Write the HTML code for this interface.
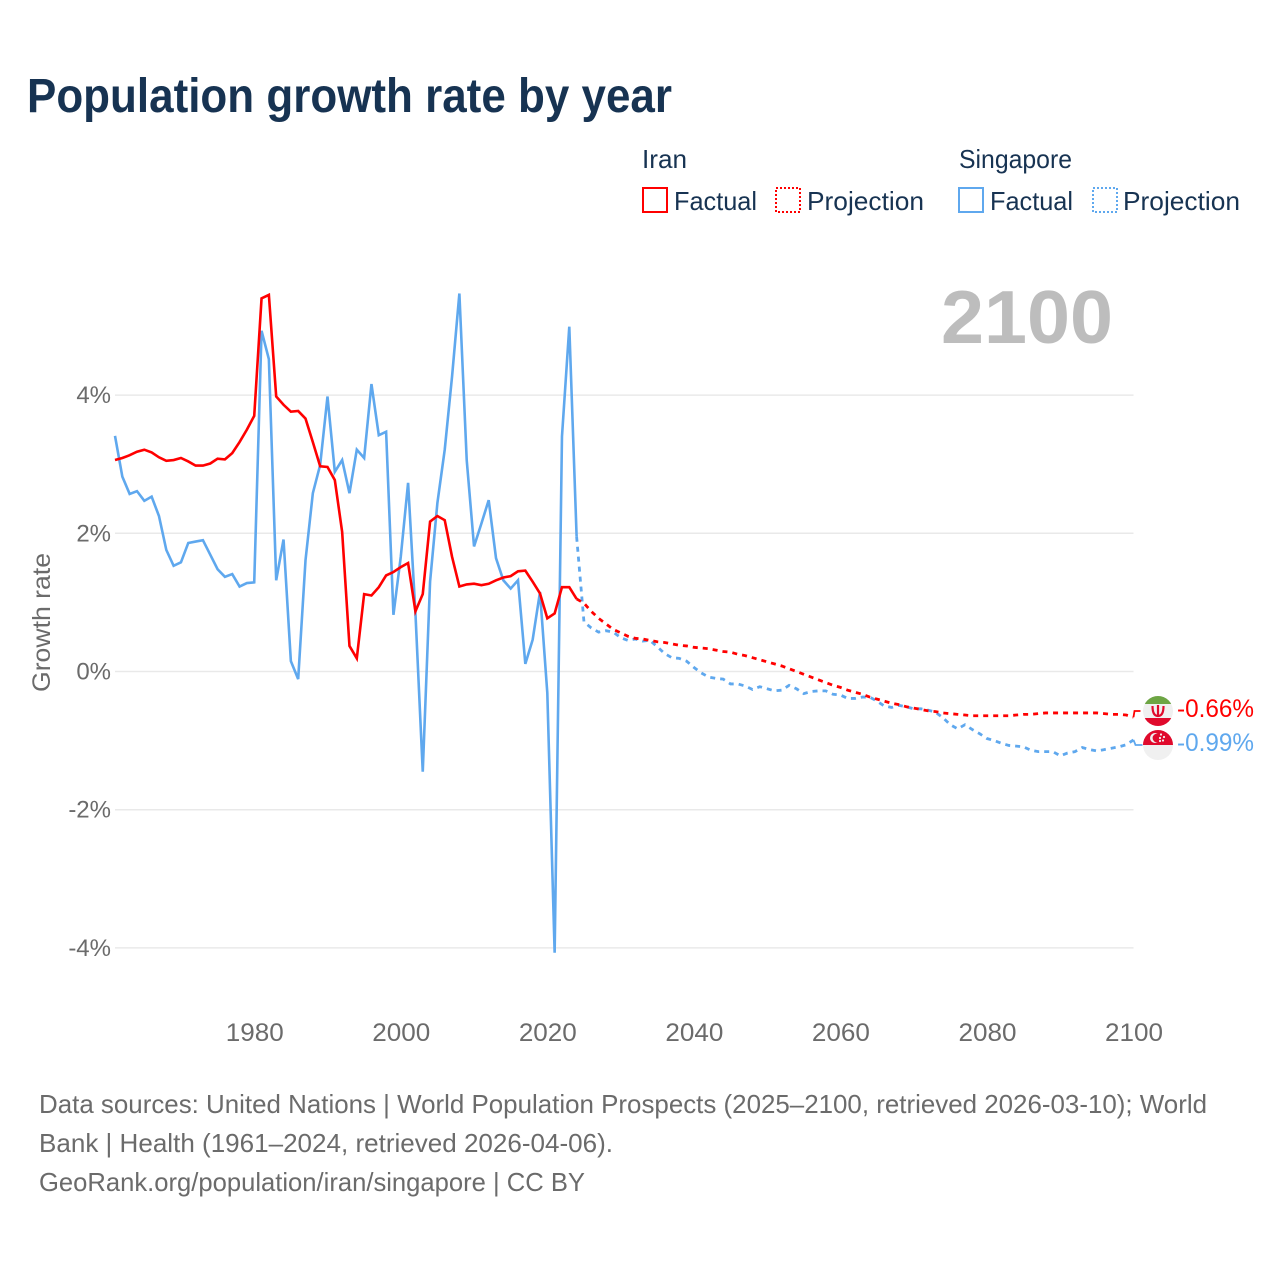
<!DOCTYPE html>
<html lang="en">
<head>
<meta charset="utf-8">
<title>Population growth rate by year</title>
<style>
html,body{margin:0;padding:0;background:#fff;}
svg{display:block;font-family:"Liberation Sans",sans-serif;}
</style>
</head>
<body>
<svg id="chart" xmlns="http://www.w3.org/2000/svg" width="1280" height="1280" viewBox="0 0 1280 1280">
  <rect width="1280" height="1280" fill="#ffffff"/>
  <text x="27" y="112" font-size="48" font-weight="700" fill="#173352" textLength="645" lengthAdjust="spacingAndGlyphs">Population growth rate by year</text>

  <g fill="#173352" font-size="26">
    <text x="642" y="168" textLength="45" lengthAdjust="spacingAndGlyphs">Iran</text>
    <text x="959" y="168" textLength="113" lengthAdjust="spacingAndGlyphs">Singapore</text>
    <rect x="643" y="188" width="24" height="24" fill="none" stroke="#ff0000" stroke-width="2"/>
    <text x="674" y="210" textLength="83" lengthAdjust="spacingAndGlyphs">Factual</text>
    <rect x="776" y="188" width="24" height="24" fill="none" stroke="#ff0000" stroke-width="2" stroke-dasharray="2 2"/>
    <text x="807" y="210" textLength="117" lengthAdjust="spacingAndGlyphs">Projection</text>
    <rect x="959" y="188" width="24" height="24" fill="none" stroke="#5fa8ee" stroke-width="2"/>
    <text x="990" y="210" textLength="83" lengthAdjust="spacingAndGlyphs">Factual</text>
    <rect x="1093" y="188" width="24" height="24" fill="none" stroke="#5fa8ee" stroke-width="2" stroke-dasharray="2 2"/>
    <text x="1123" y="210" textLength="117" lengthAdjust="spacingAndGlyphs">Projection</text>
  </g>

  <text x="941" y="343" font-size="75" font-weight="700" fill="#bdbdbd" textLength="172" lengthAdjust="spacingAndGlyphs">2100</text>
  <text transform="translate(50 692) rotate(-90)" font-size="25" fill="#6b6b6b" textLength="139" lengthAdjust="spacingAndGlyphs">Growth rate</text>

  <g id="grid"></g>
  <g id="yticks"></g>
  <g id="xticks"></g>
  <g id="series"></g>

  <g>
    <clipPath id="clipIran"><circle cx="1158" cy="711" r="15"/></clipPath>
    <g clip-path="url(#clipIran)">
      <rect x="1143" y="696" width="30" height="30" fill="#f0f0f0"/>
      <rect x="1143" y="696" width="30" height="8" fill="#6da544"/>
      <rect x="1143" y="718" width="30" height="8" fill="#e00a2c"/>
      <path d="M1152.5 706 Q1152.5 716 1158 716 Q1163.5 716 1163.5 706 M1158 705 V717" fill="none" stroke="#e00a2c" stroke-width="2.2"/>
    </g>
  </g>
  <g>
    <clipPath id="clipSing"><circle cx="1158" cy="745" r="15"/></clipPath>
    <g clip-path="url(#clipSing)">
      <rect x="1143" y="730" width="30" height="30" fill="#f0f0f0"/>
      <rect x="1143" y="730" width="30" height="15" fill="#e00a2c"/>
      <circle cx="1155" cy="738" r="5" fill="#f0f0f0"/>
      <circle cx="1157" cy="738" r="4.4" fill="#e00a2c"/>
      <circle cx="1161" cy="734.5" r="1.1" fill="#f0f0f0"/>
      <circle cx="1164" cy="737" r="1.1" fill="#f0f0f0"/>
      <circle cx="1160" cy="738" r="1.1" fill="#f0f0f0"/>
      <circle cx="1163" cy="740.5" r="1.1" fill="#f0f0f0"/>
      <circle cx="1160" cy="741" r="1.1" fill="#f0f0f0"/>
    </g>
  </g>
  <text x="1177" y="717" font-size="25" fill="#ff0000" textLength="77" lengthAdjust="spacingAndGlyphs">-0.66%</text>
  <text x="1177" y="751" font-size="25" fill="#5fa8ee" textLength="77" lengthAdjust="spacingAndGlyphs">-0.99%</text>

  <g font-size="26" fill="#6b6b6b">
    <text x="39" y="1113" textLength="1168" lengthAdjust="spacingAndGlyphs">Data sources: United Nations | World Population Prospects (2025–2100, retrieved 2026-03-10); World</text>
    <text x="39" y="1152" textLength="574" lengthAdjust="spacingAndGlyphs">Bank | Health (1961–2024, retrieved 2026-04-06).</text>
    <text x="39" y="1191" textLength="546" lengthAdjust="spacingAndGlyphs">GeoRank.org/population/iran/singapore | CC BY</text>
  </g>
</svg>
<script>
const firstYear = 1961;
const lastFactualYear = 2024;
const yTickValues = [4, 2, 0, -2, -4];
const yTickLabels = ['4%', '2%', '0%', '-2%', '-4%'];
const xTickYears = [1980, 2000, 2020, 2040, 2060, 2080, 2100];

const iranFactual = [3.06,3.09,3.13,3.18,3.21,3.17,3.10,3.05,3.06,3.09,3.04,2.98,2.98,3.01,3.08,3.07,3.16,3.32,3.50,3.70,5.40,5.45,3.98,3.86,3.76,3.77,3.66,3.32,2.97,2.96,2.77,2.02,0.37,0.19,1.12,1.10,1.22,1.39,1.44,1.51,1.57,0.87,1.12,2.17,2.25,2.19,1.66,1.23,1.26,1.27,1.25,1.27,1.32,1.36,1.38,1.45,1.46,1.30,1.13,0.77,0.84,1.22,1.22,1.05];
const iranProjection = [1.05,0.99,0.87,0.77,0.69,0.61,0.56,0.51,0.48,0.47,0.45,0.43,0.42,0.40,0.38,0.37,0.35,0.34,0.33,0.31,0.29,0.28,0.25,0.23,0.20,0.17,0.14,0.11,0.08,0.04,0.00,-0.04,-0.08,-0.12,-0.16,-0.20,-0.23,-0.27,-0.30,-0.33,-0.37,-0.40,-0.43,-0.46,-0.48,-0.51,-0.53,-0.55,-0.57,-0.58,-0.60,-0.61,-0.62,-0.63,-0.64,-0.64,-0.64,-0.64,-0.64,-0.64,-0.63,-0.62,-0.62,-0.61,-0.60,-0.60,-0.60,-0.60,-0.60,-0.60,-0.60,-0.60,-0.61,-0.62,-0.62,-0.63,-0.66];
const singaporeFactual = [3.41,2.82,2.57,2.61,2.47,2.53,2.25,1.76,1.53,1.58,1.86,1.88,1.90,1.69,1.48,1.37,1.41,1.23,1.28,1.29,4.93,4.52,1.32,1.91,0.15,-0.11,1.61,2.58,2.99,3.98,2.89,3.06,2.58,3.21,3.09,4.16,3.42,3.47,0.82,1.66,2.73,0.85,-1.45,1.30,2.44,3.21,4.27,5.47,3.06,1.81,2.14,2.48,1.64,1.32,1.20,1.32,0.11,0.46,1.15,-0.31,-4.07,3.40,4.99,1.95];
const singaporeProjection = [1.95,0.72,0.63,0.57,0.59,0.57,0.49,0.45,0.47,0.44,0.45,0.36,0.26,0.20,0.19,0.15,0.06,-0.02,-0.08,-0.10,-0.11,-0.18,-0.18,-0.21,-0.26,-0.22,-0.25,-0.28,-0.27,-0.20,-0.25,-0.32,-0.29,-0.28,-0.28,-0.33,-0.34,-0.39,-0.39,-0.37,-0.37,-0.43,-0.50,-0.52,-0.49,-0.51,-0.54,-0.54,-0.56,-0.59,-0.67,-0.77,-0.83,-0.77,-0.84,-0.90,-0.97,-1.00,-1.04,-1.07,-1.08,-1.09,-1.14,-1.16,-1.16,-1.16,-1.22,-1.18,-1.16,-1.10,-1.13,-1.15,-1.13,-1.11,-1.09,-1.06,-0.99];

const NS = 'http://www.w3.org/2000/svg';
function xScale(year) { return 115 + (year - firstYear) * (1133.5 - 115) / (2100 - firstYear); }
function yScale(v) { return 671.5 - v * 69.1; }
function linePoints(values, startYear) {
  return values.map(function (v, i) { return xScale(startYear + i).toFixed(2) + ',' + yScale(v).toFixed(2); }).join(' ');
}

const grid = document.getElementById('grid');
const yticks = document.getElementById('yticks');
yTickValues.forEach(function (v, i) {
  const g = document.createElementNS(NS, 'line');
  
  
  g.setAttribute('x1', 115);
  g.setAttribute('x2', 1133.5);
  g.setAttribute('y1', yScale(v));
  g.setAttribute('y2', yScale(v));
  g.setAttribute('stroke', '#e9e9e9');
  g.setAttribute('stroke-width', 1.5);
  grid.appendChild(g);

  const t = document.createElementNS(NS, 'text');
  
  
  t.setAttribute('x', 111);
  t.setAttribute('y', yScale(v) + 8);
  t.setAttribute('text-anchor', 'end');
  t.setAttribute('font-size', 24);
  t.setAttribute('fill', '#6b6b6b');
  t.textContent = yTickLabels[i];
  yticks.appendChild(t);
});

const xticks = document.getElementById('xticks');
xTickYears.forEach(function (yr) {
  const t = document.createElementNS(NS, 'text');
  
  
  t.setAttribute('x', xScale(yr) - 28.5);
  t.setAttribute('y', 1041);
  t.setAttribute('font-size', 25);
  t.setAttribute('fill', '#6b6b6b');
  t.setAttribute('textLength', 58);
  t.setAttribute('lengthAdjust', 'spacingAndGlyphs');
  t.textContent = String(yr);
  xticks.appendChild(t);
});

const series = document.getElementById('series');

const lineSingFact = document.createElementNS(NS, 'polyline');


lineSingFact.setAttribute('points', linePoints(singaporeFactual, firstYear));
lineSingFact.setAttribute('fill', 'none');
lineSingFact.setAttribute('stroke', '#5fa8ee');
lineSingFact.setAttribute('stroke-width', 2.6);
series.appendChild(lineSingFact);

const lineSingProj = document.createElementNS(NS, 'polyline');


lineSingProj.setAttribute('points', linePoints(singaporeProjection, lastFactualYear));
lineSingProj.setAttribute('fill', 'none');
lineSingProj.setAttribute('stroke', '#5fa8ee');
lineSingProj.setAttribute('stroke-width', 2.8);
lineSingProj.setAttribute('stroke-dasharray', '5 5');
series.appendChild(lineSingProj);

const lineIranFact = document.createElementNS(NS, 'polyline');


lineIranFact.setAttribute('points', linePoints(iranFactual, firstYear));
lineIranFact.setAttribute('fill', 'none');
lineIranFact.setAttribute('stroke', '#ff0000');
lineIranFact.setAttribute('stroke-width', 2.6);
series.appendChild(lineIranFact);

const lineIranProj = document.createElementNS(NS, 'polyline');


lineIranProj.setAttribute('points', linePoints(iranProjection, lastFactualYear));
lineIranProj.setAttribute('fill', 'none');
lineIranProj.setAttribute('stroke', '#ff0000');
lineIranProj.setAttribute('stroke-width', 2.8);
lineIranProj.setAttribute('stroke-dasharray', '5 5');
series.appendChild(lineIranProj);

const endX = xScale(2100);
const iranEndY = yScale(iranProjection[iranProjection.length - 1]);
const singEndY = yScale(singaporeProjection[singaporeProjection.length - 1]);

const stubIran = document.createElementNS(NS, 'polyline');


stubIran.setAttribute('points', endX + ',' + iranEndY + ' ' + (endX + 1) + ',711 ' + (endX + 7) + ',711');
stubIran.setAttribute('fill', 'none');
stubIran.setAttribute('stroke', '#ff0000');
stubIran.setAttribute('stroke-width', 1.8);
series.appendChild(stubIran);

const stubSing = document.createElementNS(NS, 'polyline');


stubSing.setAttribute('points', endX + ',' + singEndY + ' ' + (endX + 2) + ',745 ' + (endX + 9) + ',745');
stubSing.setAttribute('fill', 'none');
stubSing.setAttribute('stroke', '#5fa8ee');
stubSing.setAttribute('stroke-width', 1.8);
series.appendChild(stubSing);
</script>
</body>
</html>
